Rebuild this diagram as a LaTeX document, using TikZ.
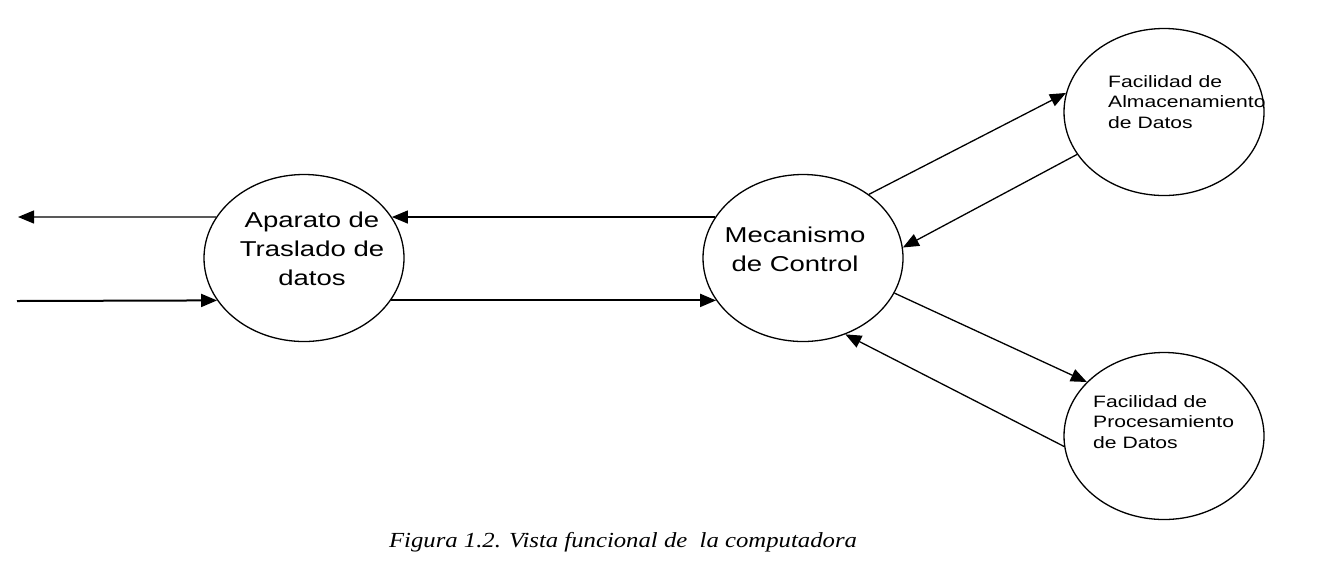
\documentclass[tikz,border=0pt]{standalone}
\usepackage{fontspec}
\setmainfont{Liberation Serif}
\newfontfamily\diagfont[FakeStretch=1.28]{Liberation Sans}
\newfontfamily\capfont[FakeStretch=1.15]{Liberation Serif}
\usetikzlibrary{shapes.geometric, arrows.meta}

\begin{document}
\begin{tikzpicture}[x=1pt, y=-1pt,
    unit/.style={draw, ellipse, minimum width=200pt, minimum height=167pt, inner sep=0pt, line width=1.3pt},
    bigtext/.style={font=\diagfont\fontsize{21.5}{29}\selectfont, align=center, inner sep=0pt, anchor=north},
    smalltext/.style={font=\diagfont\fontsize{16.5}{20.5}\selectfont, align=left, inner sep=0pt, anchor=north west},
    flow/.style={line width=1.3pt, -{Triangle[length=16pt, width=13pt]}},
    flowthick/.style={flow, line width=2pt}]
    \useasboundingbox (0,0) rectangle (1321,574);

    % Draw the units
    \node[unit] (apa) at (304,258) {};
    \node[unit] (mec) at (803,258) {};
    \node[unit] (alm) at (1164,112) {};
    \node[unit] (pro) at (1164,436) {};

    % Texts of the units
    \node[bigtext] (apatext) at (312,212) {Aparato de\\Traslado de\\datos};
    \node[bigtext] (mectext) at (795,227) {Mecanismo\\de Control};
    \node[smalltext] (almtext) at (1108,75) {Facilidad de\\Almacenamiento\\de Datos};
    \node[smalltext] (protext) at (1093,395) {Facilidad de\\Procesamiento\\de Datos};

    % Free ends on the left
    \coordinate (out) at (18,217);
    \coordinate (in) at (17,301);

    % Horizontal flows
    \draw[flow] (apa.155) -- (out);
    \draw[flow] (mec.155) -- (apa.25);
    \draw[flowthick] (in) -- (apa.206);
    \draw[flowthick] (apa.334) -- (mec.206);

    % Flows to the facilities
    \draw[flow] (mec.44) -- (alm.169);
    \draw[flow] (alm.206) -- (mec.6);
    \draw[flow] (mec.339) -- (pro.145);
    \draw[flow] (pro.186) -- (mec.299);

    % Caption
    \node[font=\capfont\itshape\fontsize{21.5}{26}\selectfont] (caption) at (623,542) {Figura 1.2. Vista funcional de\ \ la computadora};
\end{tikzpicture}
\end{document}
